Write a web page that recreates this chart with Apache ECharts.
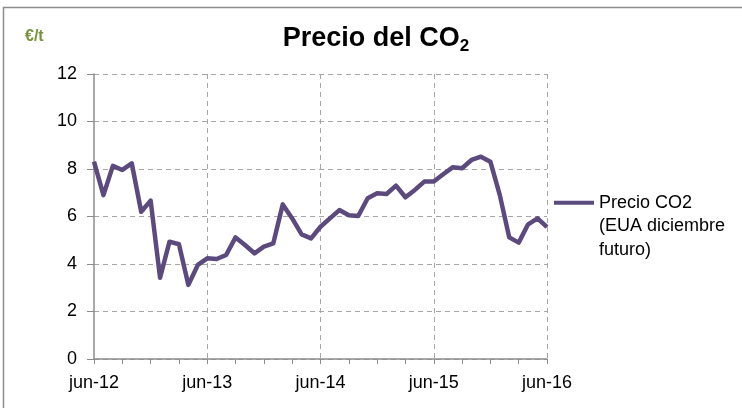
<html>
<head>
    <meta charset="utf-8">
    <title>Precio del CO2</title>
    <script src="https://cdn.jsdelivr.net/npm/echarts@6/dist/echarts.min.js"></script>
    <style>
        html, body { margin: 0; padding: 0; background: #fff; }
    </style>
</head>
<body>
    <div id="main" style="width: 742px; height: 408px;"></div>
    <script type="text/javascript">
        // meses jun-12 .. jun-16
        var monthNames = ['ene', 'feb', 'mar', 'abr', 'may', 'jun', 'jul', 'ago', 'sep', 'oct', 'nov', 'dic'];
        var months = [];
        for (var i = 0; i <= 48; i++) {
            var m = (5 + i) % 12;
            var y = 12 + Math.floor((5 + i) / 12);
            months.push(monthNames[m] + '-' + y);
        }

        // Precio CO2 (EUA diciembre futuro), €/t
        var precioCO2 = [
            8.31, 6.90, 8.13, 7.96, 8.24, 6.20, 6.67, 3.42, 4.94, 4.83, 3.12, 3.96,
            4.24, 4.21, 4.38, 5.12, 4.80, 4.45, 4.73, 4.87, 6.51, 5.92, 5.25, 5.08,
            5.57, 5.92, 6.27, 6.05, 6.02, 6.77, 6.98, 6.95, 7.30, 6.81, 7.12, 7.47,
            7.47, 7.78, 8.07, 8.03, 8.38, 8.52, 8.31, 6.90, 5.12, 4.90, 5.67, 5.92,
            5.55
        ];

        var yTicks = [0, 2, 4, 6, 8, 10, 12];

        var colors = ['#5c4a7e'];
        var myChart = echarts.init(document.getElementById('main'));

        var option = {
            color: colors,
            animation: false,
            textStyle: { fontFamily: 'Liberation Sans, Arial, sans-serif' },
            title: {
                text: '{a|Precio del CO}{b|2}',
                left: 371,
                top: 17,
                textAlign: 'center',
                textStyle: {
                    rich: {
                        a: { fontSize: 27, fontWeight: 'bold', color: '#000', fontFamily: 'Liberation Sans' },
                        b: { fontSize: 17, fontWeight: 'bold', color: '#000', fontFamily: 'Liberation Sans', padding: [16, 0, 0, 0] }
                    }
                }
            },
            graphic: [
                {
                    type: 'rect',
                    shape: { x: 3.5, y: 7.5, width: 800, height: 500 },
                    style: { fill: 'none', stroke: '#8c8c8c', lineWidth: 1.5 },
                    z: -1
                },
                {
                    type: 'text',
                    left: 25,
                    top: 29,
                    style: { text: '€/t', fill: '#77933c', font: 'bold 16px Liberation Sans' }
                }
            ],
            legend: {
                left: 554,
                top: 144,
                padding: 0,
                itemWidth: 40,
                itemHeight: 4,
                icon: 'rect',
                data: ['Precio CO2'],
                // dos líneas vacías arriba para que el icono quede en la primera línea
                formatter: function () {
                    return ' \n \nPrecio CO2\n(EUA diciembre\nfuturo)';
                },
                textStyle: {
                    fontSize: 18,
                    color: '#000',
                    lineHeight: 23.5,
                    fontFamily: 'Liberation Sans'
                }
            },
            grid: {
                left: 94,
                right: 195,
                top: 74,
                bottom: 49
            },
            xAxis: {
                type: 'category',
                boundaryGap: false,
                data: months,
                axisLine: { lineStyle: { color: '#8c8c8c', width: 1.5 } },
                axisTick: {
                    show: true,
                    length: 5,
                    interval: function (idx) { return idx % 3 === 0; },
                    lineStyle: { color: '#8c8c8c' }
                },
                axisLabel: {
                    interval: function (idx) { return idx % 12 === 0; },
                    color: '#000',
                    fontSize: 18,
                    margin: 15,
                    fontFamily: 'Liberation Sans'
                },
                splitLine: {
                    show: true,
                    interval: function (idx) { return idx % 12 === 0 && idx > 0; },
                    lineStyle: { color: '#a6a6a6', type: [5, 4], width: 1 }
                }
            },
            yAxis: {
                type: 'value',
                min: yTicks[0],
                max: yTicks[yTicks.length - 1],
                interval: 2,
                axisLine: { show: true, lineStyle: { color: '#8c8c8c', width: 1.5 } },
                axisTick: { show: true, length: 7, lineStyle: { color: '#8c8c8c' } },
                axisLabel: {
                    color: '#000',
                    fontSize: 18,
                    margin: 17,
                    fontFamily: 'Liberation Sans'
                },
                splitLine: {
                    show: true,
                    lineStyle: { color: '#a6a6a6', type: [5, 4], width: 1 }
                }
            },
            series: [
                {
                    name: 'Precio CO2',
                    type: 'line',
                    data: precioCO2,
                    symbol: 'none',
                    lineStyle: { width: 4.5, color: colors[0], join: 'round' }
                }
            ]
        };
        myChart.setOption(option);
    </script>
</body>
</html>
